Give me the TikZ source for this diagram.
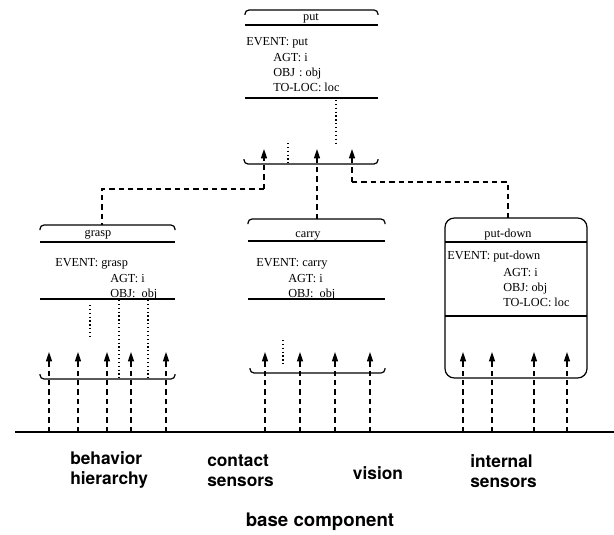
\documentclass[tikz,border=0pt]{standalone}
\usepackage{fontspec}
\setmainfont{Liberation Serif}
\newfontfamily\labfont{TeX Gyre Heros}
\usetikzlibrary{arrows.meta}
\tikzset{
  boxline/.style={line width=0.9pt},
  capline/.style={line width=0.9pt, rounded corners=3pt},
  sensor/.style={line width=1pt, dash pattern=on 4pt off 3pt, -{Triangle[width=4.5pt,length=7pt]}},
  conn/.style={line width=1pt, dash pattern=on 4pt off 3pt},
  dots/.style={line width=0.9pt, dash pattern=on 0.9pt off 2pt},
  ftxt/.style={anchor=base west, inner sep=0pt, font=\fontsize{9.2}{10}\selectfont},
  ttl/.style={anchor=base, inner sep=0pt, font=\fontsize{9.2}{10}\selectfont},
  lab/.style={inner sep=0pt, font=\labfont\bfseries\fontsize{13}{15}\selectfont, align=left}
}
\begin{document}
\begin{tikzpicture}[x=0.75pt,y=-0.75pt]
\useasboundingbox (0,0) rectangle (614,535);

% ---------- frame anchors (invisible named boxes) ----------
\node[draw=none, inner sep=0pt, minimum width=133*0.75pt, minimum height=1pt] (put) at (311.5,10) {};
\node[draw=none, inner sep=0pt, minimum width=135*0.75pt, minimum height=1pt] (grasp) at (102,225) {};
\node[draw=none, inner sep=0pt, minimum width=137*0.75pt, minimum height=1pt] (carry) at (317,219) {};
\node[draw=none, inner sep=0pt, minimum width=142*0.75pt, minimum height=1pt] (putdown) at (508,218) {};

% ---------- put box ----------
\draw[capline] (245,15) -- (245,10) -- (378,10) -- (378,15);
\node[ttl] (putT) at (311,21) {put};
\draw[boxline] (245,25) -- (378,25);
\node[ftxt] (putE) at (246,46) {EVENT: put};
\node[ftxt] (putA) at (273,62) {AGT: i};
\node[ftxt] (putO) at (273,77) {OBJ\,\,: obj};
\node[ftxt] (putL) at (273,92) {TO-LOC: loc};
\draw[boxline] (245,98) -- (378,98);
\draw[capline] (244,159) -- (244,164) -- (378,164) -- (378,159);
\draw[dots] (336,100) -- (336,145);
\draw[dots] (288,143) -- (288,163);

% put arrows and connectors
\coordinate (pa1) at (264,149); \coordinate (pb1) at (264,189);
\coordinate (pa2) at (317,149); \coordinate (pb2) at (317,219);
\coordinate (pa3) at (352,149); \coordinate (pb3) at (352,182);
\draw[sensor] (pb1) -- (pa1);
\draw[sensor] (pb2) -- (pa2);
\draw[sensor] (pb3) -- (pa3);
\draw[conn] (pb1) -| (grasp.center);
\draw[conn] (pb3) -| (putdown.center);

% ---------- grasp box ----------
\draw[capline] (40,230) -- (40,225) -- (175,225) -- (175,230);
\node[ttl] (grT) at (98,236) {grasp};
\draw[boxline] (40,242) -- (175,242);
\node[ftxt] (grE) at (55,266) {EVENT: grasp};
\node[ftxt] (grA) at (110,282) {AGT: i};
\node[ftxt] (grO) at (110,297) {OBJ:\ \ obj};
\draw[boxline] (40,299) -- (175,299);
\draw[capline] (40,374) -- (40,379) -- (175,379) -- (175,374);
\draw[dots] (119,300) -- (119,378);
\draw[dots] (148,300) -- (148,378);
\draw[dots] (90,305) -- (90,338);

\foreach \x [count=\i] in {49,78,107,131,166}{
  \coordinate (ga\i) at (\x,352);
  \coordinate (gb\i) at (\x,432);
  \draw[sensor] (gb\i) -- (ga\i);
}

% ---------- carry box ----------
\draw[capline] (248,224) -- (248,219) -- (385,219) -- (385,224);
\node[ttl] (caT) at (308,237) {carry};
\draw[boxline] (248,241) -- (385,241);
\node[ftxt] (caE) at (256,266) {EVENT: carry};
\node[ftxt] (caA) at (288,282) {AGT: i};
\node[ftxt] (caO) at (288,297) {OBJ:\ \ obj};
\draw[boxline] (248,299) -- (385,299);
\draw[capline] (250,368) -- (250,373) -- (385,373) -- (385,368);
\draw[dots] (283,340) -- (283,367);

\foreach \x [count=\i] in {265,300,335,370}{
  \coordinate (ca\i) at (\x,352);
  \coordinate (cb\i) at (\x,432);
  \draw[sensor] (cb\i) -- (ca\i);
}

% ---------- put-down box ----------
\draw[boxline, rounded corners=7pt] (445,218) rectangle (587,378);
\node[ttl] (pdT) at (508,237) {put-down};
\draw[boxline] (445,242) -- (587,242);
\node[ftxt] (pdE) at (447,259) {EVENT: put-down};
\node[ftxt] (pdA) at (503,276) {AGT: i};
\node[ftxt] (pdO) at (503,291) {OBJ:\ obj};
\node[ftxt] (pdL) at (503,306) {TO-LOC: loc};
\draw[boxline] (445,316) -- (587,316);

\foreach \x [count=\i] in {463,492,534,567}{
  \coordinate (da\i) at (\x,352);
  \coordinate (db\i) at (\x,432);
  \draw[sensor] (db\i) -- (da\i);
}

% ---------- base line ----------
\coordinate (baseL) at (15,432);
\coordinate (baseR) at (614,432);
\draw[line width=1.4pt] (baseL) -- (baseR);

% ---------- labels ----------
\node[lab, anchor=west] (lbeh) at (70,470) {behavior\\hierarchy};
\node[lab, anchor=west] (lcon) at (207,471) {contact\\sensors};
\node[lab] (lvis) at (378,473) {vision};
\node[lab, anchor=west] (lint) at (470,471) {internal\\sensors};
\node[inner sep=0pt, font=\labfont\bfseries\fontsize{14}{15}\selectfont] (lbase) at (320,522) {base component};
\end{tikzpicture}
\end{document}
